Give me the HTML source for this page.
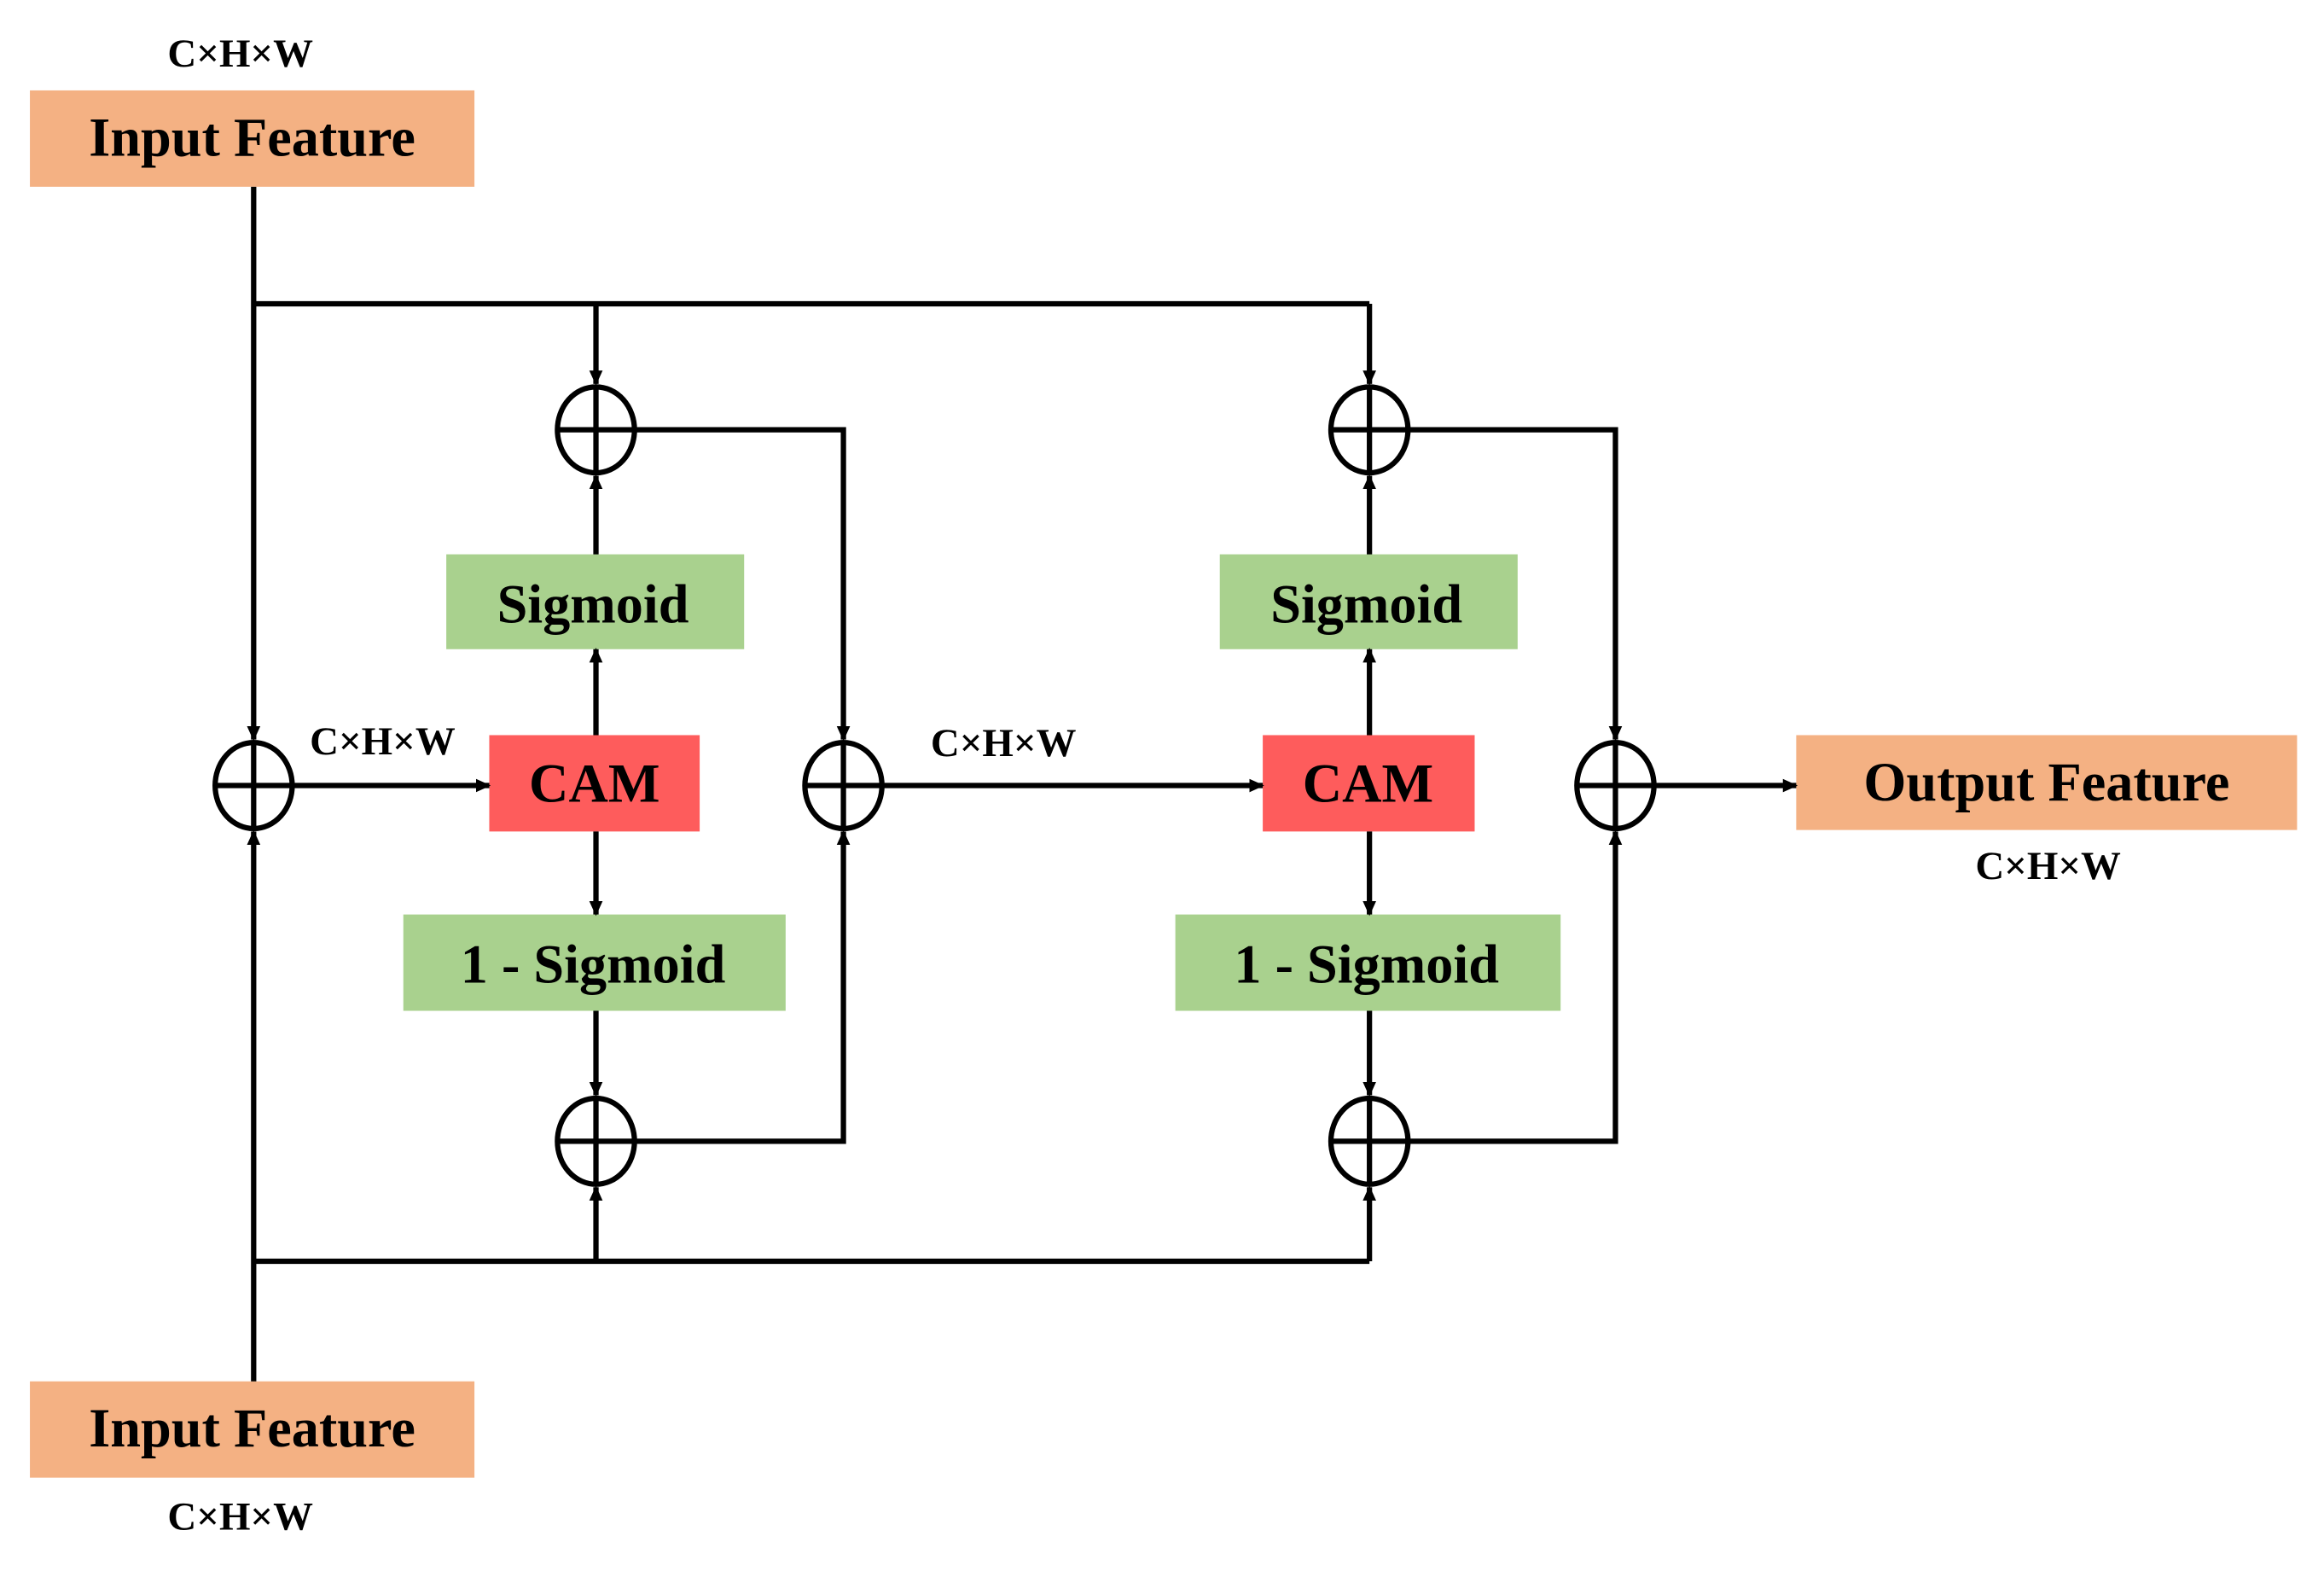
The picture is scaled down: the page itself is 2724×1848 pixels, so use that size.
<!DOCTYPE html>
<html><head><meta charset="utf-8"><style>
html,body{margin:0;padding:0;background:#fff}
svg{display:block}
text{font-family:"Liberation Serif",serif;font-weight:bold;fill:#000;text-anchor:middle}
</style></head><body>
<svg width="2724" height="1848" viewBox="0 0 1568 1064" xmlns="http://www.w3.org/2000/svg">
<defs>
<marker id="a" markerWidth="10" markerHeight="10" refX="9" refY="5" orient="auto" markerUnits="userSpaceOnUse">
<path d="M0,0.5 L10,5 L0,9.5 Z" fill="#000"/>
</marker>
</defs>
<rect width="1568" height="1064" fill="#fff"/>
<!-- boxes -->
<rect x="20" y="61" width="300" height="65" fill="#F4B183"/>
<rect x="20" y="932" width="300" height="65" fill="#F4B183"/>
<rect x="1212" y="496" width="338" height="64" fill="#F4B183"/>
<rect x="301" y="374" width="201" height="64" fill="#A9D18E"/>
<rect x="823" y="374" width="201" height="64" fill="#A9D18E"/>
<rect x="272" y="617" width="258" height="65" fill="#A9D18E"/>
<rect x="793" y="617" width="260" height="65" fill="#A9D18E"/>
<rect x="330" y="496" width="142" height="65" fill="#FE5C5C"/>
<rect x="852" y="496" width="143" height="65" fill="#FE5C5C"/>
<!-- texts -->
<g font-size="37">
<text x="170" y="105">Input Feature</text>
<text x="170" y="976">Input Feature</text>
<text x="1381" y="540">Output Feature</text>
<text x="400" y="420">Sigmoid</text>
<text x="922" y="420">Sigmoid</text>
<text x="400" y="663">1 - Sigmoid</text>
<text x="922" y="663">1 - Sigmoid</text>
<text x="401" y="541">CAM</text>
<text x="923" y="541">CAM</text>
</g>
<g font-size="27">
<text x="162" y="45">C×H×W</text>
<text x="162" y="1032">C×H×W</text>
<text x="258" y="509">C×H×W</text>
<text x="677" y="510">C×H×W</text>
<text x="1382" y="593">C×H×W</text>
</g>
<!-- lines -->
<g stroke="#000" stroke-width="3.6" fill="none">
<path d="M171,126 V499" marker-end="url(#a)"/>
<path d="M171,932 V561" marker-end="url(#a)"/>
<path d="M171,205 H924"/>
<path d="M402,205 V259" marker-end="url(#a)"/>
<path d="M924,205 V259" marker-end="url(#a)"/>
<path d="M171,851 H924"/>
<path d="M402,851 V801" marker-end="url(#a)"/>
<path d="M924,851 V801" marker-end="url(#a)"/>
<path d="M198,530 H330" marker-end="url(#a)"/>
<path d="M596,530 H852" marker-end="url(#a)"/>
<path d="M1117,530 H1212" marker-end="url(#a)"/>
<path d="M402,374 V321" marker-end="url(#a)"/>
<path d="M924,374 V321" marker-end="url(#a)"/>
<path d="M402,496 V438" marker-end="url(#a)"/>
<path d="M924,496 V438" marker-end="url(#a)"/>
<path d="M402,561 V617" marker-end="url(#a)"/>
<path d="M924,561 V617" marker-end="url(#a)"/>
<path d="M402,682 V739" marker-end="url(#a)"/>
<path d="M924,682 V739" marker-end="url(#a)"/>
<path d="M429,290 H569 V499" marker-end="url(#a)"/>
<path d="M429,770 H569 V561" marker-end="url(#a)"/>
<path d="M951,290 H1090 V499" marker-end="url(#a)"/>
<path d="M951,770 H1090 V561" marker-end="url(#a)"/>
</g>
<!-- circles -->
<g stroke="#000" stroke-width="3.6" fill="#fff">
<ellipse cx="171" cy="530" rx="26" ry="29"/>
<ellipse cx="569" cy="530" rx="26" ry="29"/>
<ellipse cx="1090" cy="530" rx="26" ry="29"/>
<ellipse cx="402" cy="290" rx="26" ry="29"/>
<ellipse cx="924" cy="290" rx="26" ry="29"/>
<ellipse cx="402" cy="770" rx="26" ry="29"/>
<ellipse cx="924" cy="770" rx="26" ry="29"/>
</g>
<g stroke="#000" stroke-width="3.6">
<path d="M145,530 H197 M171,501 V559"/>
<path d="M543,530 H595 M569,501 V559"/>
<path d="M1064,530 H1116 M1090,501 V559"/>
<path d="M376,290 H428 M402,261 V319"/>
<path d="M898,290 H950 M924,261 V319"/>
<path d="M376,770 H428 M402,741 V799"/>
<path d="M898,770 H950 M924,741 V799"/>
</g>
</svg>
</body></html>
